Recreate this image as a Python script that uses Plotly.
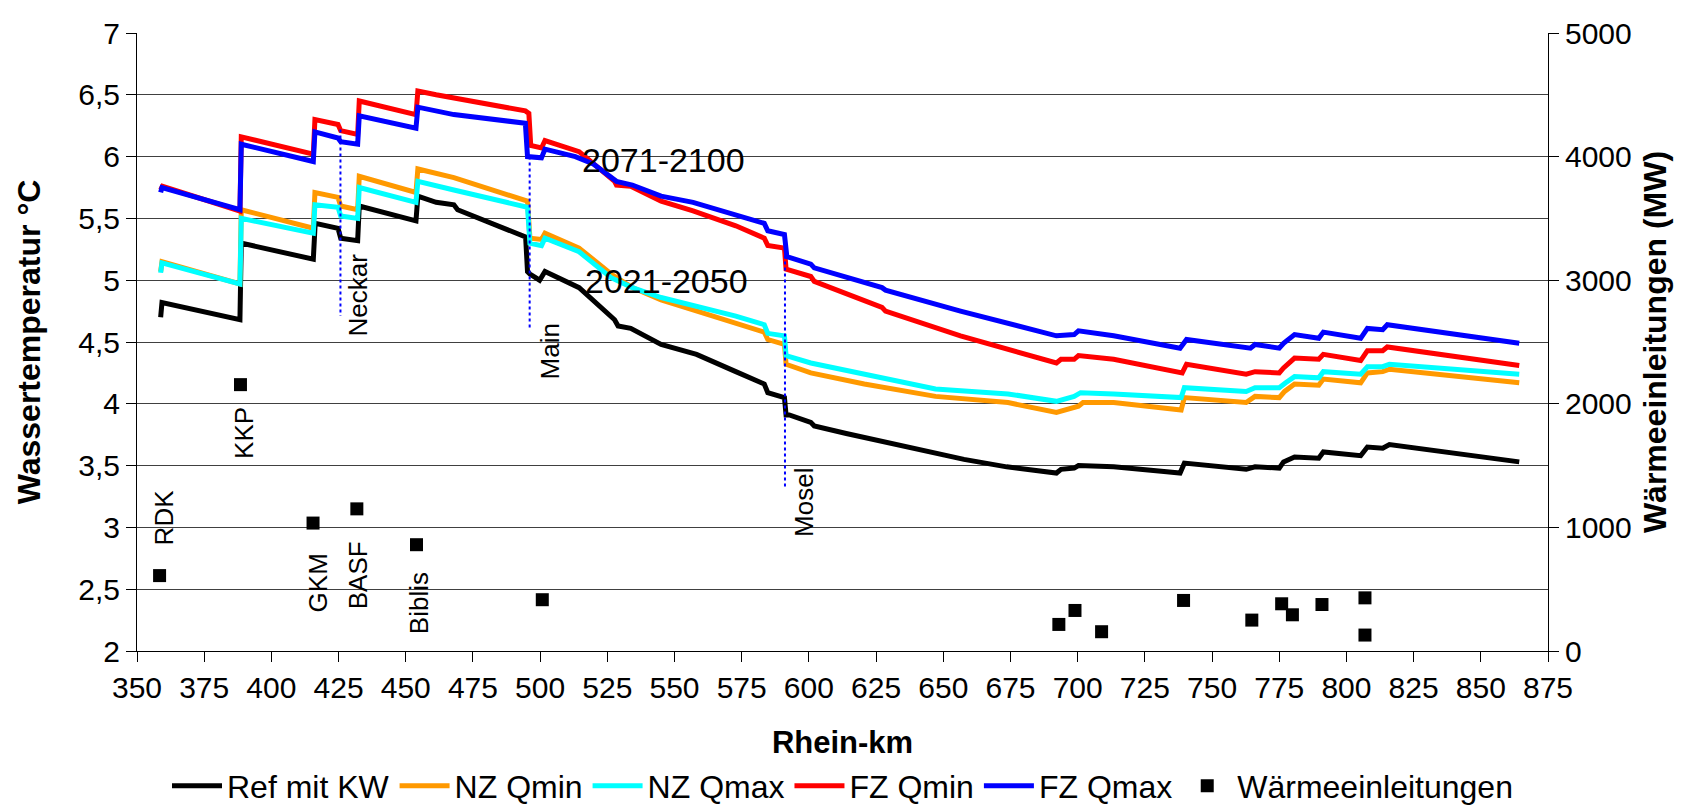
import plotly.graph_objects as go

# ---------------- data ----------------
km_ref = [358.8, 359.3, 388.3, 388.8, 415.6, 416.3, 424.8, 425.8, 432.1, 432.7, 453.8, 454.5, 461.3, 467.9, 469.3,
          487.8, 494.6, 495.3, 496.2, 499.8, 501.8, 514.5, 523.7, 527.7, 529.0, 533.7, 545.0, 558.2, 572.8, 583.4,
          584.7, 590.9, 591.5, 592.7, 600.7, 602.0, 613.9, 629.8, 657.7, 673.6, 692.1, 693.8, 698.7, 700.3, 713.4,
          733.1, 738.1, 739.7, 762.7, 766.0, 775.0, 776.6, 780.7, 789.7, 791.4, 805.3, 807.8, 813.5, 816.0, 864.3]
t_ref = [4.70, 4.82, 4.68, 5.30, 5.17, 5.46, 5.42, 5.34, 5.32, 5.60, 5.48, 5.68, 5.63, 5.61, 5.57,
         5.41, 5.35, 5.07, 5.05, 5.00, 5.07, 4.94, 4.76, 4.68, 4.63, 4.61, 4.48, 4.40, 4.26, 4.16,
         4.09, 4.05, 3.91, 3.91, 3.85, 3.82, 3.76, 3.68, 3.55, 3.49, 3.44, 3.47, 3.48, 3.50, 3.49,
         3.45, 3.44, 3.52, 3.47, 3.49, 3.48, 3.53, 3.57, 3.56, 3.61, 3.58, 3.65, 3.64, 3.67, 3.53]

km_nzmin = [358.8, 359.3, 388.3, 388.8, 415.6, 416.2, 424.8, 425.8, 432.1, 432.7, 453.8, 454.5, 467.9, 495.3, 496.2,
            500.5, 501.8, 514.5, 526.4, 534.3, 545.0, 556.9, 572.8, 583.4, 584.7, 590.9, 591.5, 600.7, 620.6, 647.1,
            674.1, 692.1, 700.3, 702.0, 713.4, 736.4, 738.5, 739.7, 762.7, 766.0, 775.0, 777.0, 780.7, 789.7, 791.4,
            805.3, 807.8, 813.5, 816.0, 864.3]
t_nzmin = [5.07, 5.15, 4.97, 5.57, 5.42, 5.71, 5.67, 5.60, 5.57, 5.84, 5.71, 5.90, 5.83, 5.64, 5.34,
           5.33, 5.38, 5.26, 5.05, 4.94, 4.84, 4.76, 4.66, 4.58, 4.52, 4.48, 4.32, 4.25, 4.16, 4.06,
           4.01, 3.93, 3.98, 4.01, 4.01, 3.95, 3.95, 4.05, 4.01, 4.06, 4.05, 4.10, 4.16, 4.15, 4.20,
           4.17, 4.25, 4.26, 4.28, 4.17]

km_nzmax = [358.8, 359.3, 388.3, 388.8, 415.6, 416.2, 424.8, 425.8, 432.1, 432.7, 453.8, 454.5, 467.9, 495.3, 496.2,
            500.5, 501.8, 514.5, 526.4, 534.3, 545.0, 556.9, 572.8, 583.4, 584.7, 590.9, 591.5, 600.7, 620.6, 647.1,
            674.1, 692.1, 698.7, 701.1, 713.4, 736.4, 738.5, 739.7, 762.7, 766.0, 775.0, 777.4, 780.7, 789.7, 791.4,
            805.3, 807.8, 813.5, 816.0, 864.3]
t_nzmax = [5.06, 5.14, 4.97, 5.50, 5.38, 5.61, 5.59, 5.52, 5.50, 5.75, 5.63, 5.80, 5.73, 5.59, 5.30,
           5.28, 5.34, 5.23, 5.02, 4.94, 4.86, 4.80, 4.71, 4.64, 4.57, 4.55, 4.39, 4.33, 4.24, 4.12,
           4.08, 4.02, 4.06, 4.09, 4.08, 4.05, 4.05, 4.13, 4.10, 4.13, 4.13, 4.17, 4.22, 4.21, 4.26,
           4.24, 4.30, 4.30, 4.32, 4.24]

km_fzmin = [358.8, 359.5, 388.3, 388.8, 415.6, 416.2, 424.8, 425.8, 432.1, 432.7, 453.8, 454.5, 461.3, 494.5, 495.8,
            496.5, 500.5, 501.8, 514.5, 523.7, 527.7, 528.4, 533.7, 545.0, 556.9, 572.8, 583.4, 584.7, 590.9, 591.5,
            600.7, 602.0, 627.2, 628.5, 656.4, 692.1, 693.8, 698.7, 700.3, 713.4, 736.4, 738.9, 740.5, 762.7, 766.0,
            775.0, 776.6, 780.7, 789.7, 791.4, 805.3, 807.8, 813.5, 815.2, 864.3]
t_fzmin = [5.73, 5.76, 5.56, 6.16, 6.02, 6.30, 6.26, 6.21, 6.18, 6.45, 6.34, 6.53, 6.50, 6.37, 6.35,
           6.09, 6.07, 6.13, 6.04, 5.87, 5.80, 5.77, 5.76, 5.64, 5.56, 5.44, 5.34, 5.28, 5.26, 5.09,
           5.03, 4.99, 4.78, 4.75, 4.55, 4.33, 4.36, 4.36, 4.39, 4.36, 4.26, 4.25, 4.32, 4.24, 4.26,
           4.25, 4.29, 4.37, 4.36, 4.40, 4.35, 4.43, 4.43, 4.46, 4.31]

km_fzmax = [358.8, 359.3, 388.3, 388.8, 415.6, 416.2, 424.8, 425.8, 432.1, 432.7, 453.8, 454.5, 467.9, 494.5, 495.3,
            500.5, 501.8, 513.1, 519.8, 526.4, 528.4, 534.3, 545.0, 556.9, 572.8, 583.4, 584.7, 590.9, 591.8, 600.7,
            602.0, 627.2, 628.5, 656.4, 692.1, 698.7, 700.3, 713.4, 738.1, 740.5, 764.3, 766.0, 775.0, 776.6, 780.7,
            789.7, 791.4, 805.3, 807.8, 813.5, 815.2, 864.3]
t_fzmax = [5.71, 5.75, 5.57, 6.10, 5.96, 6.20, 6.15, 6.12, 6.10, 6.33, 6.23, 6.40, 6.34, 6.27, 6.00,
           5.99, 6.06, 6.00, 5.94, 5.84, 5.80, 5.77, 5.68, 5.63, 5.53, 5.46, 5.40, 5.37, 5.19, 5.13,
           5.10, 4.94, 4.92, 4.75, 4.55, 4.56, 4.59, 4.55, 4.45, 4.52, 4.45, 4.48, 4.45, 4.49, 4.56,
           4.53, 4.58, 4.53, 4.61, 4.60, 4.64, 4.49]

# heat discharges (right axis, MW)
km_heat = [358.4, 388.5, 415.5, 431.8, 454.0, 500.8, 693.0, 699.0, 708.9, 739.4, 764.8, 775.9, 779.9, 790.9, 806.9, 806.9]
mw_heat = [610, 2155, 1035, 1150, 860, 415, 215, 328, 156, 409, 250, 382, 293, 376, 430, 129]

# tributary mouths (dotted reference lines)
trib_names = ["Neckar", "Main", "Mosel"]
trib_km = [425.7, 496.1, 591.1]
trib_top = [6.22, 6.00, 5.20]
trib_bottom = [4.71, 4.61, 3.32]
trib_label_km = [432.4, 503.5, 597.9]
trib_label_t = [4.88, 4.42, 3.20]

# power plant labels
plant_names = ["RDK", "KKP", "GKM", "BASF", "Biblis"]
plant_label_km = [360.0, 390.0, 417.5, 432.1, 454.7]
plant_label_t = [3.08, 3.76, 2.55, 2.61, 2.39]

# period labels
period_names = ["2071-2100", "2021-2050"]
period_km = [546.0, 547.0]
period_t = [5.97, 4.99]

x_ticks = list(range(350, 876, 25))
y_ticks = [2, 2.5, 3, 3.5, 4, 4.5, 5, 5.5, 6, 6.5, 7]
y_ticktext = ["2", "2,5", "3", "3,5", "4", "4,5", "5", "5,5", "6", "6,5", "7"]
y2_ticks = [0, 1000, 2000, 3000, 4000, 5000]

FONT = "Liberation Sans, Arial, sans-serif"

fig = go.Figure()

series = [
    ("Ref mit KW", km_ref, t_ref, "#000000"),
    ("NZ Qmin", km_nzmin, t_nzmin, "#FF9900"),
    ("NZ Qmax", km_nzmax, t_nzmax, "#00FFFF"),
    ("FZ Qmin", km_fzmin, t_fzmin, "#FF0000"),
    ("FZ Qmax", km_fzmax, t_fzmax, "#0000FF"),
]
for name, xs, ys, col in series:
    fig.add_trace(go.Scatter(x=xs, y=ys, mode="lines", name=name,
                             line=dict(color=col, width=5)))

fig.add_trace(go.Scatter(x=km_heat, y=mw_heat, mode="markers", name="Wärmeeinleitungen",
                         yaxis="y2", marker=dict(symbol="square", size=13, color="#000000")))

for k, top, bot in zip(trib_km, trib_top, trib_bottom):
    fig.add_trace(go.Scatter(x=[k, k], y=[top, bot], mode="lines", showlegend=False,
                             line=dict(color="#0000FF", width=2, dash="dot"), hoverinfo="skip"))

annotations = []
for n, k, t in zip(trib_names + plant_names, trib_label_km + plant_label_km, trib_label_t + plant_label_t):
    annotations.append(dict(x=k, y=t, xref="x", yref="y", text=n, showarrow=False, textangle=-90,
                            font=dict(family=FONT, size=26, color="#000000")))
for n, k, t in zip(period_names, period_km, period_t):
    annotations.append(dict(x=k, y=t, xref="x", yref="y", text=n, showarrow=False,
                            font=dict(family=FONT, size=34, color="#000000")))

fig.update_layout(
    width=1692, height=806,
    margin=dict(l=129, r=152, t=25, b=163, autoexpand=False),
    paper_bgcolor="white", plot_bgcolor="white",
    font=dict(family=FONT, color="#000000"),
    showlegend=True,
    legend=dict(orientation="h", x=0.5, xanchor="center", y=-0.2185, yanchor="middle",
                itemwidth=50, traceorder="normal",
                font=dict(family=FONT, size=32, color="#000000"), bgcolor="rgba(0,0,0,0)"),
    annotations=annotations,
    xaxis=dict(range=[350, 875], tickvals=x_ticks, ticks="outside", ticklen=10, tickcolor="#000000",
               showline=True, linecolor="#000000", linewidth=1, showgrid=False, zeroline=False,
               tickfont=dict(family=FONT, size=30),
               title=dict(text="Rhein-km", font=dict(family=FONT, size=31, weight="bold"), standoff=28)),
    yaxis=dict(range=[2, 7], tickvals=y_ticks, ticktext=y_ticktext, ticks="outside", ticklen=10,
               tickcolor="#000000", showline=True, linecolor="#000000", linewidth=1,
               showgrid=True, gridcolor="#404040", gridwidth=1, zeroline=False,
               tickfont=dict(family=FONT, size=30),
               title=dict(text="Wassertemperatur °C", font=dict(family=FONT, size=32, weight="bold"), standoff=28)),
    yaxis2=dict(range=[0, 5000], tickvals=y2_ticks, overlaying="y", side="right", ticks="outside", ticklen=10,
                tickcolor="#000000", showline=True, linecolor="#000000", linewidth=1, showgrid=False,
                zeroline=False, tickfont=dict(family=FONT, size=30),
                title=dict(text="Wärmeeinleitungen (MW)", font=dict(family=FONT, size=32, weight="bold"), standoff=12)),
)

fig.write_html("out.html")
